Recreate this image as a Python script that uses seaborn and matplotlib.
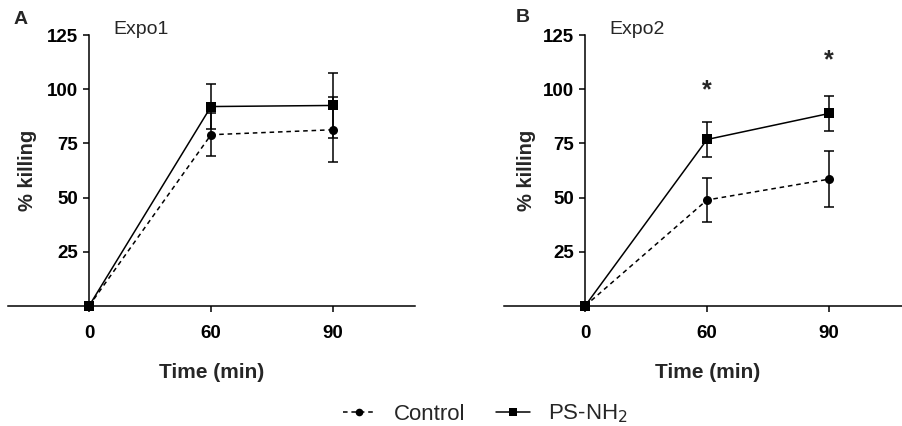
import matplotlib
matplotlib.use("Agg")
import matplotlib.pyplot as plt
from matplotlib.lines import Line2D
import pandas as pd
import seaborn as sns

sns.set_style("white")
plt.rcParams['font.family'] = ['Liberation Sans', 'DejaVu Sans']

# values (time points are shown evenly spaced)
times = ["0", "60", "90"]
expo1_control = [0, 79.0, 81.3]
expo1_control_err = [0, 10.0, 15.0]
expo1_ps = [0, 92.0, 92.5]
expo1_ps_err = [0, 10.3, 15.2]
expo2_control = [0, 48.9, 58.5]
expo2_control_err = [0, 10.0, 13.0]
expo2_ps = [0, 76.8, 88.8]
expo2_ps_err = [0, 8.0, 8.0]
star_times = ["60", "90"]
star_heights = [99.6, 113.5]

rows = []
for expo, ctrl, ctrl_e, ps, ps_e in [("Expo1", expo1_control, expo1_control_err, expo1_ps, expo1_ps_err),
                                      ("Expo2", expo2_control, expo2_control_err, expo2_ps, expo2_ps_err)]:
    for i, (v, e) in enumerate(zip(ctrl, ctrl_e)):
        rows.append(dict(expo=expo, group="Control", pos=i, killing=v, err=e))
    for i, (v, e) in enumerate(zip(ps, ps_e)):
        rows.append(dict(expo=expo, group="PS-NH2", pos=i, killing=v, err=e))
df = pd.DataFrame(rows)

fig = plt.figure(figsize=(9.03, 4.26), dpi=100)
W, H = 903, 426
axA = fig.add_axes([8 / W, 120 / H, 407 / W, 271 / H])
axB = fig.add_axes([504 / W, 120 / H, 407 / W, 271 / H])

for ax, expo, ylpad in [(axA, "Expo1", 7), (axB, "Expo2", 5)]:
    sub = df[df.expo == expo]
    for g in ["Control", "PS-NH2"]:
        s = sub[sub.group == g]
        ax.errorbar(s.pos, s.killing, yerr=s.err, fmt='none', ecolor='black',
                    elinewidth=1.1, capsize=3.5, capthick=1.1, zorder=2)
    sns.lineplot(data=sub, x="pos", y="killing", style="group", size="group",
                 sizes={"Control": 1.1, "PS-NH2": 1.1},
                 markers={"Control": "o", "PS-NH2": "s"},
                 dashes={"Control": (3, 2.5), "PS-NH2": ""},
                 color="black", markersize=6.5, markeredgewidth=0,
                 legend=False, ax=ax, zorder=3, clip_on=False)
    ax.set_xlim(-0.664, 2.672)
    ax.set_ylim(0, 125)
    ax.spines['left'].set_position(('data', 0))
    ax.spines['top'].set_visible(False)
    ax.spines['right'].set_visible(False)
    for sp in ['left', 'bottom']:
        ax.spines[sp].set_linewidth(1.1)
        ax.spines[sp].set_color('black')
    ax.set_xticks(range(len(times)))
    ax.set_xticklabels(times)
    ax.set_yticks([25, 50, 75, 100, 125])
    ax.tick_params(axis='both', which='both', direction='out', length=4.5, width=1.1,
                   labelsize=13.5, colors='black', pad=3.5)
    ax.tick_params(axis='x', bottom=True, pad=9)
    ax.tick_params(axis='y', left=True)
    for lab in ax.get_xticklabels() + ax.get_yticklabels():
        lab.set_fontweight('bold')
    ax.set_xlabel("Time (min)", fontsize=15, fontweight='bold', labelpad=15)
    ax.set_ylabel("% killing", fontsize=14.5, fontweight='bold', labelpad=ylpad)
    ax.patch.set_alpha(0)

for t, h in zip(star_times, star_heights):
    axB.text(times.index(t), h, "*", ha='center', va='center', fontsize=18, fontweight='bold')

fig.text(21 / W, 1 - 20 / H, "A", fontsize=14, fontweight='bold', ha='center', va='center')
fig.text(113 / W, 1 - 30 / H, "Expo1", fontsize=14, ha='left', va='center')
fig.text(523 / W, 1 - 18 / H, "B", fontsize=14, fontweight='bold', ha='center', va='center')
fig.text(609 / W, 1 - 30 / H, "Expo2", fontsize=14, ha='left', va='center')

handles = [Line2D([], [], color='black', lw=1.1, ls=(0, (3, 2.5)), marker='o', markersize=5.5, markeredgewidth=0),
           Line2D([], [], color='black', lw=1.1, ls='-', marker='s', markersize=6, markeredgewidth=0)]
fig.legend(handles, ["Control", "PS-NH$_2$"], loc='center', bbox_to_anchor=(485 / W, 1 - 414 / H),
           ncol=2, frameon=False, fontsize=16, handlelength=1.5, columnspacing=1.4, handletextpad=0.8,
           borderpad=0.2)

fig.savefig("out.png", dpi=100)
